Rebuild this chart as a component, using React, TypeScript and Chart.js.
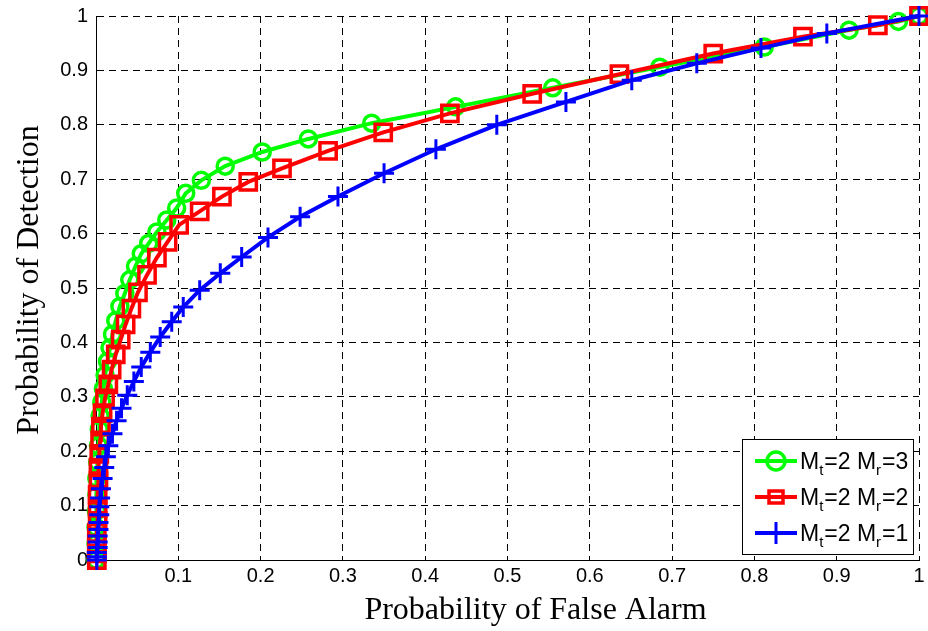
import React, { useEffect, useRef } from 'react';
import { Chart, registerables } from 'chart.js';

Chart.register(...registerables);

// ROC curves: probability of false alarm (x) vs probability of detection (y)
const pfaMr3 = [0, 0, 0, 0.0005, 0.001, 0.001, 0.002, 0.003, 0.004, 0.005, 0.007, 0.009, 0.011, 0.014, 0.017, 0.02, 0.024, 0.029, 0.035, 0.041, 0.048, 0.055, 0.064, 0.074, 0.086, 0.098, 0.109, 0.128, 0.157, 0.202, 0.258, 0.335, 0.437, 0.555, 0.685, 0.812, 0.915, 0.975, 1.0];
const pdMr3 = [0, 0.03, 0.06, 0.09, 0.12, 0.15, 0.18, 0.21, 0.24, 0.265, 0.29, 0.315, 0.34, 0.365, 0.39, 0.415, 0.44, 0.466, 0.49, 0.515, 0.54, 0.563, 0.582, 0.603, 0.625, 0.647, 0.674, 0.698, 0.724, 0.75, 0.774, 0.803, 0.833, 0.868, 0.906, 0.943, 0.974, 0.99, 1.0];

const pfaMr2 = [0.001, 0.001, 0.001, 0.001, 0.002, 0.002, 0.002, 0.003, 0.003, 0.004, 0.005, 0.006, 0.008, 0.011, 0.015, 0.019, 0.024, 0.03, 0.036, 0.043, 0.051, 0.062, 0.074, 0.087, 0.101, 0.126, 0.153, 0.185, 0.226, 0.282, 0.349, 0.43, 0.53, 0.636, 0.75, 0.859, 0.95, 1.0];
const pdMr2 = [0, 0.012, 0.03, 0.05, 0.072, 0.096, 0.12, 0.145, 0.17, 0.195, 0.22, 0.245, 0.27, 0.297, 0.323, 0.35, 0.378, 0.405, 0.433, 0.462, 0.492, 0.524, 0.556, 0.585, 0.616, 0.641, 0.668, 0.695, 0.72, 0.752, 0.786, 0.821, 0.857, 0.893, 0.931, 0.962, 0.983, 1.0];

const pfaMr1 = [0.001, 0.001, 0.001, 0.002, 0.002, 0.002, 0.003, 0.003, 0.004, 0.004, 0.005, 0.006, 0.008, 0.01, 0.012, 0.015, 0.02, 0.025, 0.031, 0.038, 0.046, 0.055, 0.066, 0.078, 0.092, 0.106, 0.126, 0.151, 0.177, 0.209, 0.248, 0.294, 0.35, 0.413, 0.487, 0.571, 0.651, 0.73, 0.808, 0.888, 1.0];
const pdMr1 = [0, 0.006, 0.014, 0.023, 0.033, 0.044, 0.056, 0.069, 0.083, 0.098, 0.114, 0.131, 0.15, 0.17, 0.19, 0.21, 0.232, 0.256, 0.279, 0.303, 0.328, 0.355, 0.382, 0.41, 0.438, 0.465, 0.496, 0.527, 0.557, 0.593, 0.631, 0.668, 0.711, 0.755, 0.8, 0.842, 0.882, 0.913, 0.941, 0.968, 1.0];

const seriesMt = [2, 2, 2];
const seriesMr = [3, 2, 1];
const seriesColors = ['#00ff00', '#ff0000', '#0000ff'];
const seriesMarkers = ['circle', 'rect', 'cross'];

const tickValues = [0, 0.1, 0.2, 0.3, 0.4, 0.5, 0.6, 0.7, 0.8, 0.9, 1];
const xTickLabels = ['', '0.1', '0.2', '0.3', '0.4', '0.5', '0.6', '0.7', '0.8', '0.9', '1'];
const yTickLabels = ['0', '0.1', '0.2', '0.3', '0.4', '0.5', '0.6', '0.7', '0.8', '0.9', '1'];

const xTitle = 'Probability of False Alarm';
const yTitle = 'Probability of Detection';

const SANS = '"Liberation Sans", Arial, Helvetica, sans-serif';
const SERIF = '"Liberation Serif", "Times New Roman", serif';

const toPoints = (xs: number[], ys: number[]) => xs.map((x, i) => ({ x, y: ys[i] }));

function drawMarker(ctx: CanvasRenderingContext2D, style: string, x: number, y: number, color: string) {
  ctx.save();
  ctx.strokeStyle = color;
  ctx.lineWidth = 3.5;
  ctx.beginPath();
  if (style === 'circle') {
    ctx.arc(x, y, 9, 0, Math.PI * 2);
  } else if (style === 'rect') {
    ctx.rect(x - 7, y - 6, 14, 12);
  } else {
    ctx.lineWidth = 3;
    ctx.moveTo(x - 10, y);
    ctx.lineTo(x + 10, y);
    ctx.moveTo(x, y - 11);
    ctx.lineTo(x, y + 11);
  }
  ctx.stroke();
  ctx.restore();
}

// Axis titles placed relative to the plot area
const titlesPlugin = {
  id: 'axisTitles',
  afterDraw(chart: any) {
    const { ctx, chartArea } = chart;
    ctx.save();
    ctx.fillStyle = '#000000';
    ctx.font = `32px ${SERIF}`;
    ctx.textAlign = 'center';
    ctx.textBaseline = 'middle';
    const cx = (chartArea.left + chartArea.right) / 2 + 28;
    ctx.fillText(xTitle, cx, chartArea.bottom + 51);
    const cy = (chartArea.top + chartArea.bottom) / 2 - 8;
    ctx.translate(30, cy);
    ctx.rotate(-Math.PI / 2);
    ctx.fillText(yTitle, 0, 0);
    ctx.restore();
  },
};

const legendPlugin = {
  id: 'mimoLegend',
  afterDraw(chart: any) {
    const { ctx, chartArea } = chart;
    const w = 171;
    const h = 115;
    const x0 = Math.round(chartArea.right - 6 - w);
    const y0 = Math.round(chartArea.bottom - 6 - h);
    ctx.save();
    ctx.fillStyle = '#ffffff';
    ctx.fillRect(x0, y0, w, h);
    ctx.strokeStyle = '#000000';
    ctx.lineWidth = 1;
    ctx.strokeRect(x0 + 0.5, y0 + 0.5, w, h);

    seriesMr.forEach((mr, i) => {
      const rowY = y0 + 22 + i * 36;
      const color = seriesColors[i];
      ctx.strokeStyle = color;
      ctx.lineWidth = 4;
      ctx.beginPath();
      ctx.moveTo(x0 + 13, rowY);
      ctx.lineTo(x0 + 55, rowY);
      ctx.stroke();
      drawMarker(ctx, seriesMarkers[i], x0 + 34, rowY, color);

      ctx.fillStyle = '#000000';
      ctx.textBaseline = 'alphabetic';
      ctx.textAlign = 'left';
      const main = `23px ${SANS}`;
      const sub = `15px ${SANS}`;
      const parts: [string, boolean][] = [
        ['M', false],
        ['t', true],
        [`=${seriesMt[i]} M`, false],
        ['r', true],
        [`=${mr}`, false],
      ];
      let tx = x0 + 58;
      parts.forEach(([txt, isSub]) => {
        ctx.font = isSub ? sub : main;
        ctx.fillText(txt, tx, rowY + (isSub ? 14 : 8));
        tx += ctx.measureText(txt).width + (isSub ? 1 : 0);
      });
    });
    ctx.restore();
  },
};

export default function App() {
  const canvasRef = useRef<HTMLCanvasElement | null>(null);

  useEffect(() => {
    const canvas = canvasRef.current;
    if (!canvas) return;

    const xs = [pfaMr3, pfaMr2, pfaMr1];
    const ys = [pdMr3, pdMr2, pdMr1];

    const datasets = seriesMr.map((mr, i) => ({
      label: `Mt=${seriesMt[i]} Mr=${mr}`,
      data: toPoints(xs[i], ys[i]),
      borderColor: seriesColors[i],
      backgroundColor: 'rgba(0,0,0,0)',
      borderWidth: 4,
      showLine: true,
      tension: 0,
      pointStyle: seriesMarkers[i],
      pointRadius: i === 0 ? 8 : i === 1 ? 11.5 : 10,
      pointBorderWidth: i === 2 ? 3 : 3.5,
      pointBorderColor: seriesColors[i],
      pointBackgroundColor: 'rgba(0,0,0,0)',
      clip: false as any,
      order: 3 - i,
    }));

    const tickFont = { family: SANS, size: 20 };

    const chart = new Chart(canvas, {
      type: 'scatter',
      data: { datasets: datasets as any },
      options: {
        animation: false,
        responsive: false,
        devicePixelRatio: 1,
        layout: { autoPadding: false, padding: { top: 16, right: 9, left: 0, bottom: 0 } },
        plugins: {
          legend: { display: false },
          tooltip: { enabled: false },
        },
        scales: {
          x: {
            type: 'linear',
            min: 0,
            max: 1,
            afterBuildTicks: (s: any) => {
              s.ticks = tickValues.map((v) => ({ value: v }));
            },
            afterFit: (s: any) => {
              s.height = 71;
              s.paddingLeft = 0;
              s.paddingRight = 0;
            },
            ticks: {
              callback: (_v: any, i: number) => xTickLabels[i],
              font: tickFont,
              color: '#000000',
              padding: 4,
              maxRotation: 0,
              autoSkip: false,
            },
            grid: { color: '#000000', lineWidth: 1, drawTicks: false },
            border: { display: true, color: '#000000', width: 1, dash: [7, 5] },
          },
          y: {
            type: 'linear',
            min: 0,
            max: 1,
            afterBuildTicks: (s: any) => {
              s.ticks = tickValues.map((v) => ({ value: v }));
            },
            afterFit: (s: any) => {
              s.width = 96;
              s.paddingTop = 0;
              s.paddingBottom = 0;
            },
            ticks: {
              callback: (_v: any, i: number) => yTickLabels[i],
              font: tickFont,
              color: '#000000',
              padding: 8,
              autoSkip: false,
            },
            grid: { color: '#000000', lineWidth: 1, drawTicks: false },
            border: { display: true, color: '#000000', width: 1, dash: [7, 5] },
          },
        },
      } as any,
      plugins: [titlesPlugin, legendPlugin],
    });

    return () => chart.destroy();
  }, []);

  return (
    <div style={{ position: 'fixed', left: 0, top: 0, width: 928, height: 631, background: '#ffffff' }}>
      <canvas ref={canvasRef} width={928} height={631} style={{ display: 'block' }} />
    </div>
  );
}
